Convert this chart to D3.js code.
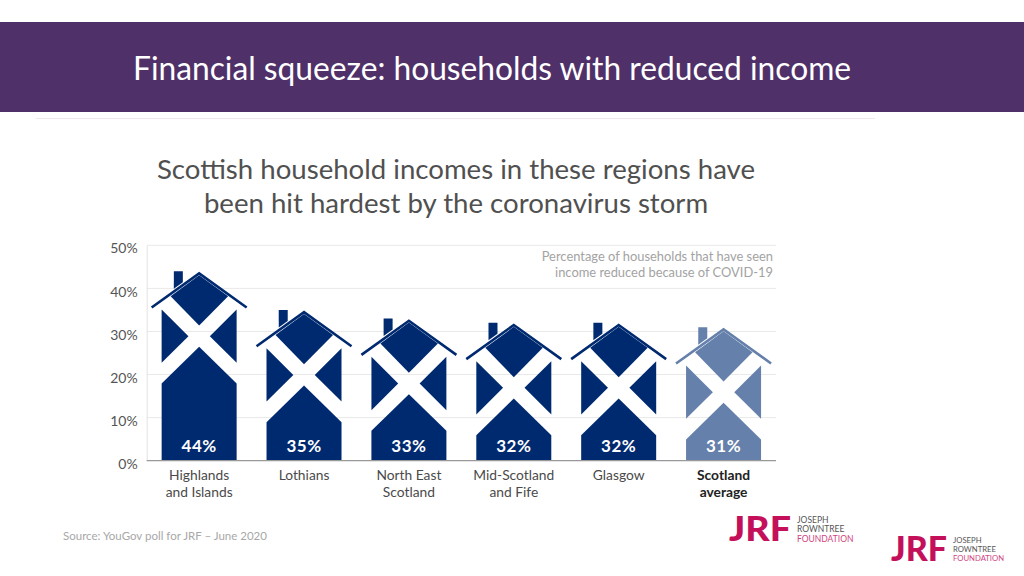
<!DOCTYPE html>
<html lang="en">
<head>
    <meta charset="UTF-8">
    <title>Financial squeeze: households with reduced income</title>
    <script src="https://d3js.org/d3.v7.min.js"></script>
    <style>
        body { margin: 0; background: #fff; overflow: hidden; }
        text { font-family: Lato, sans-serif; }
    </style>
</head>
<body>
    <svg id="chart" width="1024" height="576"></svg>

    <script>
        const categories = ["Highlands\nand Islands", "Lothians", "North East\nScotland", "Mid-Scotland\nand Fife", "Glasgow", "Scotland\naverage"];
        const values = [44, 35, 33, 32, 32, 31];
        const averageCategory = "Scotland\naverage";
        const yTicks = [0, 10, 20, 30, 40, 50];

        const svg = d3.select("#chart");

        // slide header
        svg.append("rect").attr("x", 0).attr("y", 22).attr("width", 1024).attr("height", 90).attr("fill", "#4f3068");
        svg.append("line").attr("x1", 36).attr("x2", 875).attr("y1", 118.5).attr("y2", 118.5).attr("stroke", "#f3e6ee");
        svg.append("text").attr("x", 133).attr("y", 80).attr("fill", "#fff")
            .attr("textLength", 718).attr("lengthAdjust", "spacingAndGlyphs")
            .style("font-size", "32px").text("Financial squeeze: households with reduced income");

        // chart title
        const titleLines = ["Scottish household incomes in these regions have", "been hit hardest by the coronavirus storm"];
        svg.selectAll(".title").data(titleLines).join("text")
            .attr("class", "title")
            .attr("x", 456)
            .attr("y", (d, i) => 179 + i * 34)
            .attr("text-anchor", "middle")
            .attr("fill", "#505050")
            .style("font-size", "27.6px")
            .text(d => d);

        const x = d3.scaleBand().domain(categories).range([146.7, 776]).paddingInner(0.285).paddingOuter(0.1425);
        const y = d3.scaleLinear().domain([0, 50]).range([460.7, 245.3]);

        // grid
        svg.append("g").selectAll("line").data(yTicks.filter(d => d > 0)).join("line")
            .attr("x1", 146.7).attr("x2", 776)
            .attr("y1", d => y(d)).attr("y2", d => y(d))
            .attr("stroke", "#e9e9e9");

        const yAxis = svg.append("g").attr("transform", "translate(146.7,0)")
            .call(d3.axisLeft(y).tickValues(yTicks).tickFormat(d => d + "%").tickSize(0).tickPadding(9));
        yAxis.select(".domain").attr("stroke", "#e3e3e3");
        yAxis.selectAll("text").attr("dy", "0.62em").attr("y", -1)
            .attr("fill", "#555").style("font-size", "14px").style("font-family", "Lato, sans-serif");

        // one house per category, roof apex sits on the value
        const house = svg.selectAll(".house").data(categories).join("g")
            .attr("class", "house")
            .attr("transform", (d, i) => `translate(${x(d) + x.bandwidth() / 2},${y(values[i])})`)
            .attr("fill", d => d === averageCategory ? "#6480ab" : "#002a70")
            .attr("stroke", "none");

        const halfW = x.bandwidth() / 2;
        const line = d3.line();
        const shapes = [
            [[-25.3, 0], [-16.3, 0], [-16.3, 11], [-25.3, 17.5]],             // chimney
            [[0, 4], [29, 25], [0, 54.3], [-28.5, 25]],                       // top of the saltire
            [[-halfW, 38.3], [-10.7, 65], [-halfW, 91.7]],                    // left
            [[halfW, 38.3], [10.7, 65], [halfW, 91.7]]                        // right
        ];
        shapes.forEach(s => house.append("path").attr("d", line(s) + "Z"));
        house.append("path").attr("d", (d, i) => {
            const h = y(0) - y(values[i]);
            return line([[-halfW, 112.3], [0, 75.7], [halfW, 112.3], [halfW, h], [-halfW, h]]) + "Z";
        });
        // roof stripe
        house.append("path").attr("d", line([[-47.5, 36.3], [0, 2.2], [47.5, 36.3]]))
            .attr("fill", "none")
            .attr("stroke", d => d === averageCategory ? "#6480ab" : "#002a70")
            .attr("stroke-width", 2.6);

        house.append("text")
            .attr("y", (d, i) => y(0) - y(values[i]) - 8.5)
            .attr("text-anchor", "middle")
            .attr("fill", "#fff")
            .style("font-size", "17px")
            .style("font-weight", 700)
            .style("letter-spacing", "0.5px")
            .text((d, i) => values[i] + "%");

        // baseline over the bars
        svg.append("line").attr("x1", 146.7).attr("x2", 776).attr("y1", y(0)).attr("y2", y(0))
            .attr("stroke", "#999").attr("stroke-width", 1.2);

        // category labels
        svg.selectAll(".cat").data(categories).join("text")
            .attr("class", "cat")
            .attr("x", d => x(d) + x.bandwidth() / 2)
            .attr("y", 480)
            .attr("text-anchor", "middle")
            .attr("fill", d => d === averageCategory ? "#222" : "#4a4a4a")
            .style("font-size", "13.8px")
            .style("font-weight", d => d === averageCategory ? 700 : 400)
            .selectAll("tspan").data(d => d.split("\n")).join("tspan")
            .attr("x", function() { return this.parentNode.getAttribute("x"); })
            .attr("dy", (d, i) => i ? 17 : 0)
            .text(d => d);

        // note inside the plot
        const noteLines = ["Percentage of households that have seen", "income reduced because of COVID-19"];
        svg.selectAll(".note").data(noteLines).join("text")
            .attr("class", "note")
            .attr("x", 773)
            .attr("y", (d, i) => 261 + i * 16)
            .attr("text-anchor", "end")
            .attr("fill", "#a3a3a3")
            .style("font-size", "12.9px")
            .text(d => d);

        svg.append("text").attr("x", 63).attr("y", 540).attr("fill", "#a8a8a8")
            .style("font-size", "11.5px").text("Source: YouGov poll for JRF \u2013 June 2020");

        // logos
        const logos = [
            { x: 729, y: 541, size: 35, w: 62, tx: 797, ty: 522.5, small: 8.5, gap: 9.5 },
            { x: 891, y: 561, size: 34, w: 56, tx: 953, ty: 543, small: 7.7, gap: 9 }
        ];
        const logoWords = ["JOSEPH", "ROWNTREE", "FOUNDATION"];
        logos.forEach(l => {
            svg.append("text").attr("x", l.x).attr("y", l.y).attr("fill", "#c4105a")
                .attr("textLength", l.w).attr("lengthAdjust", "spacingAndGlyphs")
                .style("font-size", l.size + "px").style("font-weight", 900).text("JRF");
            logoWords.forEach((w, i) => {
                svg.append("text").attr("x", l.tx).attr("y", l.ty + i * l.gap)
                    .attr("fill", i === 2 ? "#d0457f" : "#555")
                    .style("font-size", l.small + "px").text(w);
            });
        });
    </script>
</body>
</html>
